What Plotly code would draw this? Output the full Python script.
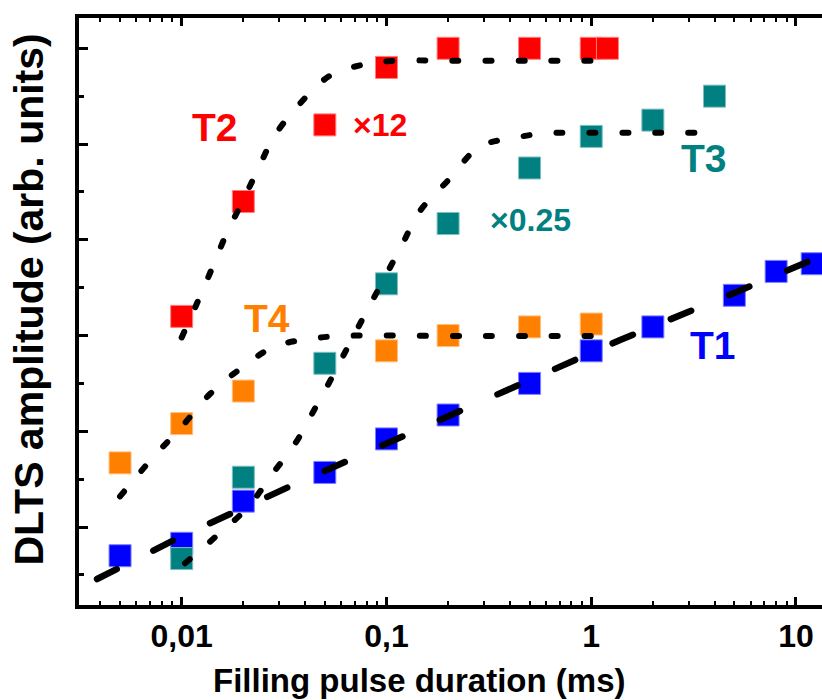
import plotly.graph_objects as go

# ---- measured DLTS amplitudes (arb. units) vs filling pulse duration (ms) ----
t1_x = [0.005, 0.01, 0.02, 0.05, 0.1, 0.2, 0.5, 1, 2, 5, 8, 12]
t1_y = [0.70, 0.83, 1.27, 1.57, 1.92, 2.17, 2.50, 2.84, 3.09, 3.42, 3.67, 3.75]

t2_x = [0.01, 0.02, 0.05, 0.1, 0.2, 0.5, 1, 1.2]
t2_y = [3.20, 4.40, 5.20, 5.80, 6.00, 6.00, 6.00, 6.00]

t3_x = [0.01, 0.02, 0.05, 0.1, 0.2, 0.5, 1, 2, 4]
t3_y = [0.67, 1.52, 2.71, 3.54, 4.17, 4.75, 5.08, 5.25, 5.50]

t4_x = [0.005, 0.01, 0.02, 0.1, 0.2, 0.5, 1]
t4_y = [1.67, 2.08, 2.42, 2.84, 3.00, 3.09, 3.12]

# ---- fitted curves (sampled) ----
fit1_x = [0.00386, 0.0099, 0.0341, 0.1175, 0.409, 1.384, 4.86, 9.03, 12.0]
fit1_y = [0.457, 0.899, 1.428, 1.937, 2.438, 2.953, 3.434, 3.684, 3.79]

fit2_x = [0.0100, 0.01197, 0.01402, 0.01645, 0.01976, 0.0235, 0.02826, 0.03762,
          0.0530, 0.0757, 0.1101, 0.2, 0.5, 1.0]
fit2_y = [2.98, 3.353, 3.695, 4.050, 4.395, 4.729, 5.077, 5.418,
          5.714, 5.826, 5.870, 5.870, 5.870, 5.870]

fit3_x = [0.01038, 0.01483, 0.02115, 0.02771, 0.03647, 0.0448, 0.05465, 0.0664,
          0.0807, 0.0985, 0.1202, 0.1449, 0.2029, 0.2843, 0.4093, 0.5954, 0.851, 2.0, 3.95]
fit3_y = [0.621, 0.909, 1.212, 1.554, 1.898, 2.240, 2.577, 2.925,
          3.267, 3.614, 3.963, 4.293, 4.635, 4.972, 5.060, 5.112, 5.118, 5.118, 5.118]

fit4_x = [0.0050, 0.00713, 0.0100, 0.01374, 0.01977, 0.02825, 0.04111, 0.05983,
          0.2, 0.5, 1.0]
fit4_y = [1.32, 1.710, 2.048, 2.389, 2.668, 2.883, 2.961, 2.995,
          2.995, 2.995, 2.995]

x_ticks = [0.01, 0.1, 1, 10]
x_tick_text = ["0,01", "0,1", "1", "10"]
y_major = [1, 2, 3, 4, 5, 6]
y_minor = [0.5, 1.5, 2.5, 3.5, 4.5, 5.5]
x_minor = [m * 10.0 ** e for e in range(-3, 2) for m in range(2, 10)]

BLUE = "#0000FF"
RED = "#FF0000"
TEAL = "#008080"
ORANGE = "#FF8000"
FONT = "Liberation Sans, Arial, sans-serif"

fig = go.Figure()


def add_points(x, y, color, edge):
    fig.add_trace(go.Scatter(
        x=x, y=y, mode="markers",
        marker=dict(symbol="square", size=22, color=color,
                    line=dict(width=1, color=edge)),
        showlegend=False, hoverinfo="skip"))


def add_fit(x, y, width, dash, shape):
    fig.add_trace(go.Scatter(
        x=x, y=y, mode="lines",
        line=dict(color="black", width=width, dash=dash, shape=shape),
        showlegend=False, hoverinfo="skip"))


add_points(t1_x, t1_y, BLUE, "#7f7fff")
add_points(t4_x, t4_y, ORANGE, "#ffbf80")
add_points(t3_x, t3_y, TEAL, "#7fbfbf")
add_points(t2_x, t2_y, RED, "#ff7f7f")

dots = "6px,27px"
add_fit(fit1_x, fit1_y, 6.5, "22px,41px", "linear")
add_fit(fit2_x, fit2_y, 6, dots, "spline")
add_fit(fit3_x, fit3_y, 6, dots, "spline")
add_fit(fit4_x, fit4_y, 6, dots, "spline")


def label(text, lx, y, color, size):
    fig.add_annotation(x=lx, y=y, xref="x", yref="y", text=text, showarrow=False,
                       xanchor="center", yanchor="middle",
                       font=dict(family=FONT, size=size, color=color, weight="bold"))


label("T2", -1.835, 5.173, RED, 39)
label("\u00d712", -1.032, 5.204, RED, 32)
label("T3", 0.553, 4.844, TEAL, 39)
label("\u00d70.25", -0.299, 4.207, TEAL, 32)
label("T4", -1.584, 3.175, ORANGE, 39)
label("T1", 0.596, 2.901, BLUE, 39)

# axis titles
fig.add_annotation(x=0.458, y=-0.128, xref="paper", yref="paper",
                   text="Filling pulse duration (ms)", showarrow=False,
                   xanchor="center", yanchor="middle",
                   font=dict(family=FONT, size=33, color="black", weight="bold"))
fig.add_annotation(x=-0.0673, y=0.5204, xref="paper", yref="paper",
                   text="DLTS amplitude (arb. units)", showarrow=False, textangle=-90,
                   xanchor="center", yanchor="middle",
                   font=dict(family=FONT, size=41, color="black", weight="bold"))

fig.update_xaxes(
    type="log", range=[-2.5015, 1.127],
    tickvals=x_ticks, ticktext=x_tick_text,
    ticks="inside", ticklen=8, tickwidth=3, tickcolor="black",
    tickfont=dict(family=FONT, size=32, color="black", weight="bold"),
    showline=True, linewidth=4, linecolor="black", mirror="allticks",
    showgrid=False, zeroline=False,
    minor=dict(tickvals=x_minor, ticks="inside", ticklen=4, tickwidth=2,
               tickcolor="black", showgrid=False),
)
fig.update_yaxes(
    range=[0.1853, 6.3165],
    tickvals=y_major, showticklabels=False,
    ticks="inside", ticklen=9, tickwidth=3, tickcolor="black",
    showline=True, linewidth=4, linecolor="black", mirror=False,
    showgrid=False, zeroline=False,
    minor=dict(tickvals=y_minor, ticks="inside", ticklen=5, tickwidth=3,
               tickcolor="black", showgrid=False),
)

fig.update_layout(
    width=822, height=700,
    margin=dict(l=79, r=0, t=18, b=95),
    paper_bgcolor="white", plot_bgcolor="white",
    showlegend=False,
)

# rounded ends for the dashed/dotted fit curves
round_caps = """
var gd = document.getElementById('{plot_id}');
gd.querySelectorAll('.scatterlayer .js-line').forEach(function (p) {
    p.style.strokeLinecap = 'round';
});
"""

fig.write_html("out.html", post_script=round_caps)
